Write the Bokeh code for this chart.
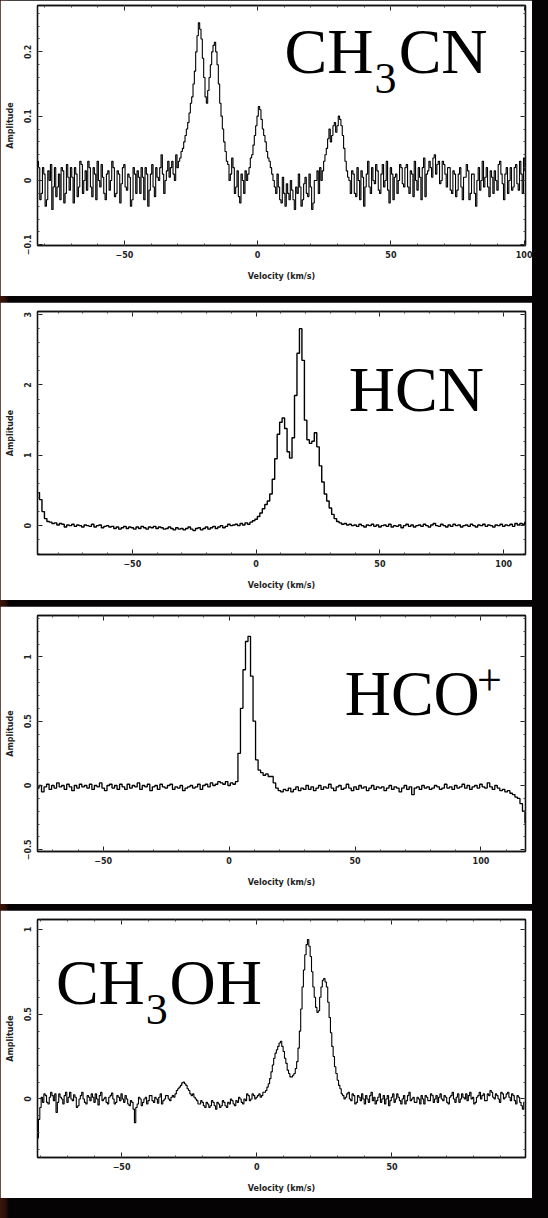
import numpy as np
from bokeh.plotting import figure
from bokeh.layouts import column
from bokeh.models import FixedTicker, Label, LinearAxis, CustomLabelingPolicy
from bokeh.embed import file_html
from bokeh.resources import INLINE

# ---------------- data (amplitude per channel) ----------------
# CH3CN: channels of 0.5 km/s starting at -84 km/s
ch3cn_v0, ch3cn_dv = -84, 0.5
ch3cn_amp = [
    0.09, 0.07, 0.05, 0.03, 0.02, -0.03, -0.02, 0.02, 0.01, -0.04, -0.03, 0.015, 0.0, 0.025, -0.045, -0.01, 0.02, -0.025, -0.01, 0.01,
    -0.03, 0.02, 0.015, -0.035, -0.02, 0.025, 0.005, -0.015, 0.02, 0.005, -0.035, 0.02, 0.01, -0.025, -0.01, 0.03, 0.025, -0.02, 0.0, 0.015,
    -0.015, 0.03, 0.02, -0.01, -0.025, 0.02, 0.01, -0.03, 0.03, 0.0, -0.01, 0.025, 0.005, -0.02, -0.03, 0.01, 0.015, -0.015, 0.0, 0.03,
    0.02, -0.025, -0.02, 0.015, 0.01, -0.035, -0.005, 0.02, 0.025, -0.01, -0.015, 0.01, 0.005, -0.04, -0.03, 0.02, 0.01, -0.02, 0.015, 0.005,
    -0.02, 0.02, 0.005, -0.03, 0.02, 0.01, -0.04, -0.015, 0.01, 0.025, -0.01, -0.025, 0.02, 0.005, 0.0, 0.02, 0.04, 0.01, -0.02, 0.0,
    0.015, 0.03, 0.005, 0.02, 0.03, 0.01, 0.0, 0.04, 0.02, 0.03, 0.035, 0.045, 0.05, 0.06, 0.07, 0.08, 0.09, 0.105, 0.12, 0.13,
    0.15, 0.17, 0.20, 0.225, 0.245, 0.235, 0.22, 0.19, 0.16, 0.13, 0.12, 0.14, 0.16, 0.18, 0.20, 0.21, 0.215, 0.2, 0.18, 0.15,
    0.12, 0.1, 0.08, 0.06, 0.045, 0.03, 0.025, 0.0, 0.01, 0.035, 0.02, -0.02, -0.01, 0.015, -0.025, -0.035, 0.01, 0.0, -0.02, 0.015,
    0.0, 0.01, 0.02, 0.035, 0.04, 0.055, 0.07, 0.085, 0.10, 0.115, 0.11, 0.095, 0.08, 0.07, 0.06, 0.045, 0.035, 0.03, 0.02, 0.01,
    0.0, -0.01, -0.02, 0.01, -0.01, -0.03, -0.035, 0.005, -0.02, -0.04, -0.005, -0.02, -0.03, 0.0, -0.015, -0.03, -0.045, -0.01, -0.02, 0.01,
    -0.01, -0.04, -0.03, -0.005, 0.005, -0.02, -0.025, 0.01, -0.01, -0.045, -0.035, 0.0, 0.0, 0.015, -0.02, 0.02, 0.0, 0.015, 0.03, 0.04,
    0.05, 0.065, 0.08, 0.06, 0.07, 0.085, 0.09, 0.075, 0.085, 0.1, 0.095, 0.085, 0.07, 0.05, 0.03, 0.015, 0.005, 0.0, -0.02, 0.015,
    0.01, -0.02, -0.025, 0.02, 0.0, -0.03, 0.015, 0.005, -0.04, -0.01, 0.01, 0.03, -0.01, -0.02, 0.02, 0.0, -0.005, 0.025, 0.015, -0.015,
    -0.02, 0.01, 0.025, -0.01, 0.0, 0.03, -0.015, -0.035, 0.02, 0.01, -0.03, 0.005, 0.01, -0.02, 0.0, 0.025, 0.02, -0.005, -0.01, 0.02,
    0.025, -0.01, -0.02, 0.015, 0.01, -0.025, 0.03, 0.0, -0.015, 0.02, 0.005, -0.03, 0.02, 0.035, -0.025, 0.01, 0.015, 0.03, 0.02, 0.005,
    0.035, 0.04, 0.01, 0.025, 0.03, -0.005, 0.0, 0.03, 0.025, 0.01, -0.01, 0.02, 0.02, -0.015, -0.02, 0.015, 0.01, -0.025, -0.015, 0.01,
    0.02, -0.01, -0.03, 0.005, 0.005, 0.025, 0.015, -0.03, -0.02, 0.01, 0.01, -0.02, -0.04, 0.0, 0.02, -0.015, 0.0, 0.03, -0.01, 0.005,
    0.02, -0.01, -0.025, 0.015, 0.005, -0.02, 0.015, 0.0, -0.015, 0.025, 0.03, 0.01, -0.005, -0.03, 0.01, 0.02, -0.02, 0.0, 0.02, -0.015,
    -0.01, 0.02, 0.025, -0.005, -0.015, 0.03, 0.01, -0.02, 0.035, 0.015, -0.01, 0.025, 0.02,
]

# HCN: channels of 1 km/s starting at -88 km/s
hcn_v0, hcn_dv = -88, 1.0
hcn_amp = [
    0.47, 0.37, 0.2, 0.1, 0.06, 0.05, 0.03, 0.04, 0.01, 0.03,
    0.02, -0.02, 0.01, 0.0, 0.02, -0.01, 0.01, 0.0, -0.02, 0.01,
    0.0, -0.01, 0.02, -0.02, 0.0, 0.01, -0.03, -0.01, 0.0, -0.02,
    -0.01, -0.04, -0.02, -0.05, -0.03, -0.01, -0.04, -0.02, -0.03, -0.05,
    -0.02, -0.04, -0.01, -0.03, -0.05, -0.02, -0.03, -0.01, -0.04, -0.02,
    -0.03, -0.05, -0.04, -0.02, -0.04, -0.06, -0.03, -0.05, -0.04, -0.06,
    -0.04, -0.02, -0.05, -0.07, -0.04, -0.03, -0.06, -0.04, -0.02, -0.05,
    -0.03, -0.01, -0.04, -0.02, 0.0, -0.03, -0.01, 0.02, 0.0, 0.01,
    0.02, 0.0, 0.03, 0.01, 0.04, 0.02, 0.05, 0.07, 0.09, 0.13,
    0.18, 0.24, 0.3, 0.35, 0.45, 0.66, 0.95, 1.3, 1.47, 1.53,
    1.38, 1.05, 0.96, 1.25, 1.85, 2.45, 2.8, 2.35, 1.5, 1.22,
    1.17, 1.2, 1.32, 1.12, 0.85, 0.62, 0.45, 0.35, 0.25, 0.16,
    0.1, 0.06, 0.04, 0.02, 0.03, 0.01, 0.02, 0.0, 0.01, -0.01,
    0.02, 0.0, -0.02, 0.01, 0.0, 0.02, -0.01, 0.01, -0.02, 0.0,
    0.01, -0.01, 0.02, -0.02, 0.0, -0.01, 0.01, -0.03, 0.0, 0.02,
    -0.01, 0.01, -0.02, 0.0, 0.01, -0.01, 0.02, 0.0, -0.02, 0.01,
    0.03, 0.0, -0.01, 0.02, 0.0, -0.02, 0.01, -0.01, 0.02, 0.0,
    0.01, -0.02, 0.0, 0.01, -0.01, 0.02, 0.0, -0.02, 0.01, 0.0,
    0.02, -0.01, 0.01, 0.0, -0.02, 0.01, 0.0, 0.02, -0.01, 0.01,
    0.0, 0.02, -0.01, 0.03, 0.01, 0.03, 0.02, 0.05, 0.04, 0.08,
    0.11,
]

# HCO+: channels of 1 km/s starting at -76 km/s
hcop_v0, hcop_dv = -76, 1.0
hcop_amp = [
    -0.02, 0.0, -0.05, -0.01, 0.01, -0.03, 0.0, -0.02, 0.02, -0.01,
    0.0, -0.03, 0.01, -0.01, -0.04, 0.0, -0.02, 0.01, -0.01, 0.0,
    -0.02, 0.01, -0.03, 0.0, -0.01, 0.02, -0.02, -0.04, 0.0, 0.01,
    -0.02, 0.0, -0.03, 0.01, -0.01, -0.03, 0.01, -0.02, 0.0, -0.01,
    0.02, -0.03, 0.0, -0.01, 0.01, -0.04, -0.01, 0.0, -0.03, 0.01,
    -0.01, -0.02, 0.0, 0.01, -0.03, -0.01, -0.02, 0.0, -0.04, -0.02,
    -0.01, 0.0, -0.02, -0.01, 0.01, -0.03, 0.0, 0.01, -0.01, 0.02,
    0.0, 0.01, 0.03, 0.02, 0.01, 0.03, 0.0, 0.02, 0.01, 0.03,
    0.25, 0.6, 0.9, 1.12, 1.16, 0.85, 0.5, 0.2, 0.12, 0.1,
    0.08, 0.09, 0.07, 0.07, 0.02, -0.02, -0.04, -0.05, -0.03, -0.04,
    -0.02, -0.05, -0.03, -0.01, -0.04, -0.02, -0.03, 0.0, -0.03, -0.01,
    -0.04, -0.02, 0.0, -0.03, -0.01, -0.02, 0.01, -0.02, -0.04, -0.01,
    0.0, -0.03, -0.02, 0.01, -0.02, -0.04, -0.01, -0.03, 0.0, -0.02,
    -0.01, -0.04, -0.02, 0.0, -0.03, -0.01, -0.02, -0.01, -0.04, -0.02,
    0.0, -0.03, -0.01, -0.02, -0.05, -0.02, 0.0, -0.03, -0.01, -0.07,
    -0.02, -0.01, -0.03, 0.0, -0.02, -0.01, -0.03, -0.02, 0.0, -0.01,
    -0.03, -0.02, 0.01, -0.02, -0.01, -0.03, 0.0, -0.02, -0.01, 0.01,
    -0.02, 0.0, -0.03, -0.01, 0.0, -0.02, 0.01, -0.01, -0.02, 0.02,
    -0.01, -0.03, 0.0, -0.02, -0.04, -0.03, -0.05, -0.04, -0.06, -0.07,
    -0.09, -0.1, -0.14, -0.2, -0.29, -0.34,
]

# CH3OH: channels of 0.5 km/s starting at -81 km/s
ch3oh_v0, ch3oh_dv = -81, 0.5
ch3oh_amp = [
    -0.23, -0.12, -0.05, 0.01, -0.02, 0.03, 0.02, -0.02, -0.03, 0.01, 0.04, 0.02, -0.01, 0.03, -0.08, -0.02, 0.03, 0.01, 0.0, -0.03,
    0.02, 0.04, -0.02, 0.01, 0.04, 0.0, -0.01, 0.025, 0.01, -0.05, -0.04, 0.0, 0.02, 0.04, 0.0, -0.02, -0.03, 0.02, 0.01, -0.01,
    0.03, 0.01, -0.02, 0.03, 0.0, -0.035, 0.02, 0.04, -0.01, 0.0, 0.01, -0.02, -0.03, 0.01, 0.02, 0.035, 0.0, -0.03, -0.02, 0.02,
    0.01, -0.01, 0.03, 0.0, -0.02, 0.02, 0.0, -0.03, -0.04, -0.01, -0.02, -0.06, -0.14, -0.05, -0.03, 0.01, 0.0, -0.04, -0.02, 0.0,
    0.01, -0.03, -0.01, 0.02, 0.02, -0.01, -0.02, 0.01, 0.0, -0.025, 0.01, 0.03, -0.03, -0.01, 0.0, 0.02, 0.02, 0.0, -0.01, 0.01,
    0.02, 0.01, 0.03, 0.05, 0.06, 0.07, 0.08, 0.095, 0.1, 0.09, 0.08, 0.06, 0.05, 0.03, 0.02, 0.03, 0.01, 0.0, -0.01, -0.03,
    -0.03, -0.01, -0.02, -0.04, -0.05, -0.02, -0.03, -0.05, -0.04, -0.01, -0.02, -0.04, -0.06, -0.02, -0.03, -0.05, -0.04, -0.01, -0.02, -0.04,
    -0.05, -0.02, -0.03, 0.0, -0.01, -0.03, -0.04, -0.01, -0.02, 0.01, 0.0, -0.02, -0.03, 0.0, -0.01, 0.03, 0.02, -0.01, 0.0, 0.03,
    0.02, 0.0, 0.01, 0.02, 0.03, 0.01, 0.02, 0.04, 0.04, 0.05, 0.07, 0.09, 0.12, 0.16, 0.2, 0.24, 0.27, 0.29, 0.31, 0.33,
    0.34, 0.31, 0.28, 0.24, 0.21, 0.17, 0.15, 0.13, 0.13, 0.14, 0.15, 0.18, 0.22, 0.3, 0.4, 0.53, 0.66, 0.76, 0.85, 0.91,
    0.94, 0.9, 0.84, 0.75, 0.66, 0.6, 0.54, 0.51, 0.52, 0.6, 0.66, 0.7, 0.71, 0.69, 0.66, 0.57, 0.48, 0.39, 0.31, 0.25,
    0.19, 0.15, 0.11, 0.08, 0.06, 0.03, 0.02, 0.0, 0.01, 0.03, 0.04, 0.0, -0.01, 0.03, 0.02, -0.03, -0.02, 0.02, 0.01, -0.01,
    0.03, 0.0, -0.03, 0.02, 0.0, -0.02, 0.02, 0.04, -0.01, 0.01, -0.03, -0.01, 0.01, 0.03, -0.02, 0.0, 0.02, -0.03, 0.0, 0.02,
    -0.04, -0.01, 0.01, 0.03, -0.02, 0.0, 0.03, 0.01, -0.01, -0.03, 0.0, 0.02, -0.03, -0.01, 0.02, 0.04, -0.01, 0.0, 0.01, -0.02,
    -0.02, 0.01, 0.0, -0.03, 0.02, 0.0, -0.03, 0.02, 0.01, -0.01, -0.01, 0.03, 0.02, -0.02, 0.0, 0.02, -0.02, 0.01, 0.03, 0.0,
    -0.01, 0.02, 0.01, -0.02, -0.03, 0.01, 0.02, 0.04, 0.0, -0.02, 0.01, 0.03, -0.02, 0.0, 0.03, 0.01, 0.0, 0.03, -0.01, 0.02,
    0.04, 0.0, 0.01, -0.03, -0.02, 0.01, 0.02, 0.04, 0.0, 0.02, 0.03, -0.01, -0.01, 0.03, 0.02, 0.05, 0.04, 0.01, 0.0, 0.03,
    0.02, 0.0, -0.02, 0.04, 0.03, 0.0, 0.01, 0.03, 0.04, 0.01, -0.01, 0.03, 0.02, -0.01, -0.03, 0.02, 0.01, -0.02, -0.04, -0.06,
    -0.02,
]

x_ticks = [-50, 0, 50, 100]
ch3cn_yticks = [-0.1, 0, 0.1, 0.2]
hcn_yticks = [0, 1, 2, 3]
hcop_yticks = [-0.5, 0, 0.5, 1]
ch3oh_yticks = [0, 0.5, 1]

x_label = "Velocity (km/s)"
y_label = "Amplitude"

SMALL_FONT = "DejaVu Sans"
BIG_FONT = "Liberation Serif"
FIG_W = 532


def style_ticks(ax):
    ax.axis_line_color = "#111111"
    ax.axis_line_width = 1.3
    ax.major_tick_in = 5
    ax.major_tick_out = 0
    ax.minor_tick_in = 2
    ax.minor_tick_out = 0
    ax.major_tick_line_color = "#222222"
    ax.minor_tick_line_color = "#444444"


def tick_only_axis(ticks, minor):
    ax = LinearAxis(ticker=FixedTicker(ticks=ticks, minor_ticks=minor),
                    major_label_policy=CustomLabelingPolicy(code="return new Set()"),
                    major_label_text_font_size="0px", major_label_standoff=0)
    style_ticks(ax)
    return ax


def make_panel(v0, dv, amp, xr, yr, yticks, height, borders, lw):
    left, right, top, bottom = borders
    p = figure(width=FIG_W, height=height, x_range=xr, y_range=yr,
               output_backend="svg", toolbar_location=None,
               min_border_left=left, min_border_right=right,
               min_border_top=top, min_border_bottom=bottom,
               background_fill_color="white", border_fill_color="white",
               outline_line_color="#111111", outline_line_width=1.3)
    p.grid.visible = False
    vel = v0 + dv * np.arange(len(amp))
    p.step(vel, amp, mode="center", line_color="black", line_width=lw)

    xminor = list(np.arange(-100, 130, 10))
    ystep = yticks[1] - yticks[0]
    yminor = list(np.arange(yticks[0] - ystep, yticks[-1] + 2 * ystep, ystep / 5))
    p.xaxis.ticker = FixedTicker(ticks=x_ticks, minor_ticks=xminor)
    p.yaxis.ticker = FixedTicker(ticks=yticks, minor_ticks=yminor)
    p.yaxis.major_label_orientation = "vertical"

    for ax in (p.xaxis[0], p.yaxis[0]):
        style_ticks(ax)
        ax.major_label_text_font = SMALL_FONT
        ax.major_label_text_font_size = "8px"
        ax.major_label_text_font_style = "bold"
        ax.major_label_text_color = "#222222"
        ax.axis_label_text_font = SMALL_FONT
        ax.axis_label_text_font_size = "8px"
        ax.axis_label_text_font_style = "bold"
        ax.axis_label_text_color = "#222222"
    p.xaxis.axis_label = x_label
    p.yaxis.axis_label = y_label
    p.xaxis.major_label_standoff = 5
    p.xaxis.axis_label_standoff = 11
    p.yaxis.major_label_standoff = 6
    p.yaxis.axis_label_standoff = 7

    # tick marks (no labels) on the top and right sides of the frame
    p.add_layout(tick_only_axis(x_ticks, xminor), "above")
    p.add_layout(tick_only_axis(yticks, yminor), "right")
    return p


def big_text(p, x, y, s, size):
    p.add_layout(Label(x=x, y=y, text=s, text_font=BIG_FONT,
                       text_font_size=f"{size}px", text_color="black",
                       text_baseline="alphabetic", text_align="left"))


p1 = make_panel(ch3cn_v0, ch3cn_dv, ch3cn_amp, (-82.6, 100.5), (-0.101, 0.272),
                ch3cn_yticks, 296, (36, 2, 5, 51), 1.1)
big_text(p1, 10.1, 0.2006, "CH", 64)
big_text(p1, 43.8, 0.1586, "3", 44)
big_text(p1, 52.9, 0.2006, "CN", 64)

p2 = make_panel(hcn_v0, hcn_dv, hcn_amp, (-88.3, 108.8), (-0.41, 3.044),
                hcn_yticks, 298, (34, 7, 9, 46), 1.4)
big_text(p2, 37.4, 1.935, "HCN", 64)

p3 = make_panel(hcop_v0, hcop_dv, hcop_amp, (-76.1, 117.7), (-0.513, 1.322),
                hcop_yticks, 298, (37, 3, 9, 53), 1.3)
big_text(p3, 45.9, 0.7154, "HCO", 64)
big_text(p3, 98.4, 0.8165, "+", 44)

p4 = make_panel(ch3oh_v0, ch3oh_dv, ch3oh_amp, (-81.1, 99.4), (-0.345, 1.058),
                ch3oh_yticks, 288, (37, 2, 9, 41), 1.1)
big_text(p4, -74.3, 0.684, "CH", 64)
big_text(p4, -41.1, 0.526, "3", 44)
big_text(p4, -32.3, 0.684, "OH", 64)

layout = column(p1, p2, p3, p4, spacing=6)

html = file_html(layout, INLINE, title="Molecular line spectra")
html = html.replace(
    "<head>",
    "<head><style>body{background:linear-gradient(90deg,#3a160c 0px,#2a0e07 6px,#050303 9px);}</style>",
    1)
open("out.html", "w").write(html)
